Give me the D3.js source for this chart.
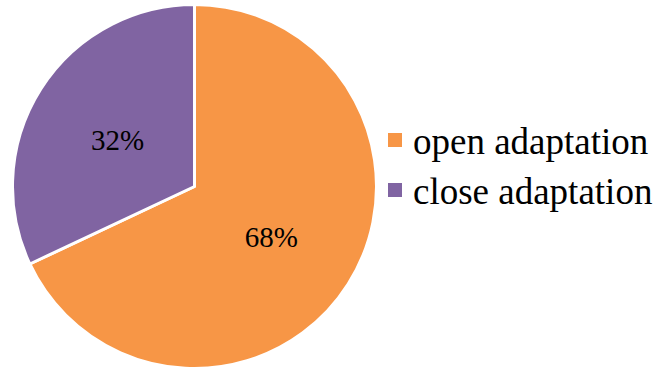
<!DOCTYPE html>
<html>
<head>
<meta charset="utf-8">
<script src="https://cdn.jsdelivr.net/npm/d3@7/dist/d3.min.js"></script>
<style>
  html, body { margin: 0; padding: 0; background: #fff; }
  svg { display: block; }
  svg text { font-family: "Liberation Serif", "Times New Roman", Times, serif; }
</style>
</head>
<body>
<svg id="chart" width="660" height="369"></svg>
<script>
// Share of adaptation types
const categories = ["open adaptation", "close adaptation"];
const values = [68, 32];
const colors = ["#F79646", "#8064A2"];

const svg = d3.select("#chart");
const cx = 194.5, cy = 186.5, radius = 182;

const pie = d3.pie().sort(null).value(d => d.value);
const arcs = pie(categories.map((c, i) => ({ name: c, value: values[i] })));

const arc = d3.arc().innerRadius(0).outerRadius(radius);

const g = svg.append("g").attr("transform", `translate(${cx},${cy})`);

g.selectAll("path.slice")
  .data(arcs)
  .join("path")
  .attr("class", "slice")
  .attr("d", arc)
  .attr("fill", (d, i) => colors[i])
  .attr("stroke", "#fff")
  .attr("stroke-width", 3)
  .attr("stroke-linejoin", "round");

// Percentage labels at the slice centroids
g.selectAll("text.pct")
  .data(arcs)
  .join("text")
  .attr("class", "pct")
  .attr("transform", d => `translate(${arc.centroid(d)})`)
  .attr("text-anchor", "middle")
  .attr("dy", "0.42em")
  .attr("font-size", 29)
  .attr("fill", "#000")
  .text(d => `${d.data.value}%`);

// Legend
const legend = svg.append("g").attr("transform", "translate(388,133)");
const item = legend.selectAll("g.item")
  .data(categories)
  .join("g")
  .attr("class", "item")
  .attr("transform", (d, i) => `translate(0,${i * 50})`);

item.append("rect")
  .attr("width", 14)
  .attr("height", 14)
  .attr("fill", (d, i) => colors[i]);

item.append("text")
  .attr("x", 25)
  .attr("y", 21)
  .attr("font-size", 37)
  .attr("fill", "#000")
  .text(d => d);
</script>
</body>
</html>
